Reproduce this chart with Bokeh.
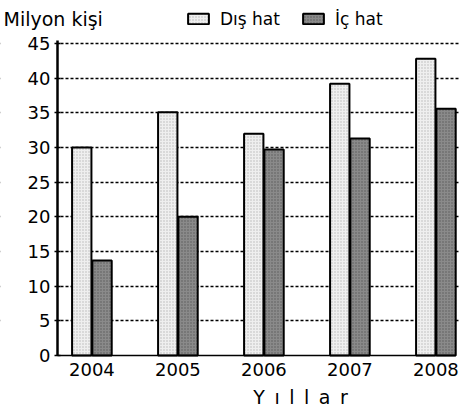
from bokeh.plotting import figure
from bokeh.models import ColumnDataSource, FixedTicker, Legend, LegendItem, Label, BoxAnnotation
from bokeh.embed import file_html
from bokeh.resources import INLINE
from bokeh.transform import dodge

years = ["2004", "2005", "2006", "2007", "2008"]
dis_hat = [30.0, 35.1, 32.0, 39.2, 42.8]
ic_hat = [13.7, 20.0, 29.7, 31.3, 35.6]
y_ticks = [0, 5, 10, 15, 20, 25, 30, 35, 40, 45]
series_names = ["Dış hat", "İç hat"]

FONT = "DejaVu Sans"
W, H = 459, 408
# layout geometry (page pixels): y axis at x=57, value 0 at y=355, 45 at y=43
AXIS_PX, ZERO_PY, TOP45_PY = 57, 355, 43
UNIT_X = 86.0                      # pixels per category step
UNIT_Y = (ZERO_PY - TOP45_PY) / 45.0
X_AXIS = -0.4
X_END = X_AXIS + (455 - AXIS_PX) / UNIT_X
X0 = X_AXIS - AXIS_PX / UNIT_X
X1 = X0 + W / UNIT_X
Y1 = ZERO_PY / UNIT_Y
Y0 = -(H - ZERO_PY) / UNIT_Y


def dx(px):
    return X0 + px / UNIT_X


def dy(py):
    return (ZERO_PY - py) / UNIT_Y


idx = list(range(len(years)))
src = ColumnDataSource(dict(x=idx, dis=dis_hat, ic=ic_hat))

p = figure(width=W, height=H, output_backend="svg", toolbar_location=None,
           x_range=(X0, X1), y_range=(Y0, Y1),
           min_border_left=0, min_border_right=0, min_border_top=0, min_border_bottom=0)
p.outline_line_color = None

r1 = p.vbar(x=dodge("x", -0.118, range=p.x_range), top="dis", width=0.225, source=src,
            fill_color="#efefef", line_color="black", line_width=2,
            hatch_pattern="dot", hatch_color="#b8b8b8", hatch_scale=3, hatch_weight=1)
r2 = p.vbar(x=dodge("x", 0.118, range=p.x_range), top="ic", width=0.225, source=src,
            fill_color="#8a8a8a", line_color="black", line_width=2,
            hatch_pattern="dot", hatch_color="#5a5a5a", hatch_scale=3, hatch_weight=1)

# grid
p.xgrid.grid_line_color = None
p.ygrid.ticker = FixedTicker(ticks=y_ticks[1:])
p.ygrid.grid_line_color = "black"
p.ygrid.grid_line_dash = "3 2"
p.ygrid.grid_line_width = 1.5
p.ygrid.level = "underlay"
# keep grid lines to the right of the y axis
p.add_layout(BoxAnnotation(right=X_AXIS, fill_color="white", fill_alpha=1,
                           line_color=None, level="underlay"))

# y axis, drawn at the left edge of the bars area
p.yaxis.fixed_location = X_AXIS
p.yaxis.ticker = FixedTicker(ticks=y_ticks)
p.yaxis.bounds = (0, 45.5)
p.yaxis.axis_line_width = 2.5
p.yaxis.axis_line_color = "black"
p.yaxis.major_tick_line_color = "black"
p.yaxis.major_tick_line_width = 1.5
p.yaxis.major_tick_in = 3
p.yaxis.major_tick_out = 3
p.yaxis.minor_tick_line_color = None
p.yaxis.major_label_text_font = FONT
p.yaxis.major_label_text_font_size = "18px"
p.yaxis.major_label_text_color = "black"
p.yaxis.major_label_standoff = 4

# x axis, drawn at value 0
p.xaxis.fixed_location = 0
p.xaxis.bounds = (X_AXIS, X_END)
p.xaxis.ticker = FixedTicker(ticks=idx)
p.xaxis.major_label_overrides = {i: y for i, y in enumerate(years)}
p.xaxis.axis_line_color = "black"
p.xaxis.axis_line_width = 1.5
p.xaxis.major_tick_line_color = None
p.xaxis.minor_tick_line_color = None
p.xaxis.major_tick_out = 0
p.xaxis.major_tick_in = 0
p.xaxis.major_label_text_font = FONT
p.xaxis.major_label_text_font_size = "18px"
p.xaxis.major_label_text_color = "black"
p.xaxis.major_label_standoff = 7

# texts
p.add_layout(Label(x=dx(3), y=dy(18), text="Milyon kişi", text_font=FONT,
                   text_font_size="19px", text_color="black", text_baseline="middle"))
sp = "\u2002"
p.add_layout(Label(x=dx(300), y=dy(396), text=sp.join("Yıllar"), text_font=FONT,
                   text_font_size="19px", text_color="black", text_align="center",
                   text_baseline="middle"))

legend = Legend(items=[LegendItem(label=series_names[0], renderers=[r1]),
                       LegendItem(label=series_names[1], renderers=[r2])],
                orientation="horizontal", location=(185, H - 28.5),
                background_fill_alpha=0, border_line_color=None,
                label_text_font=FONT, label_text_font_size="17px", label_text_color="black",
                glyph_width=26, glyph_height=13, spacing=20, padding=0,
                label_standoff=9, margin=0)
p.add_layout(legend, "center")

open("out.html", "w").write(file_html(p, INLINE))
